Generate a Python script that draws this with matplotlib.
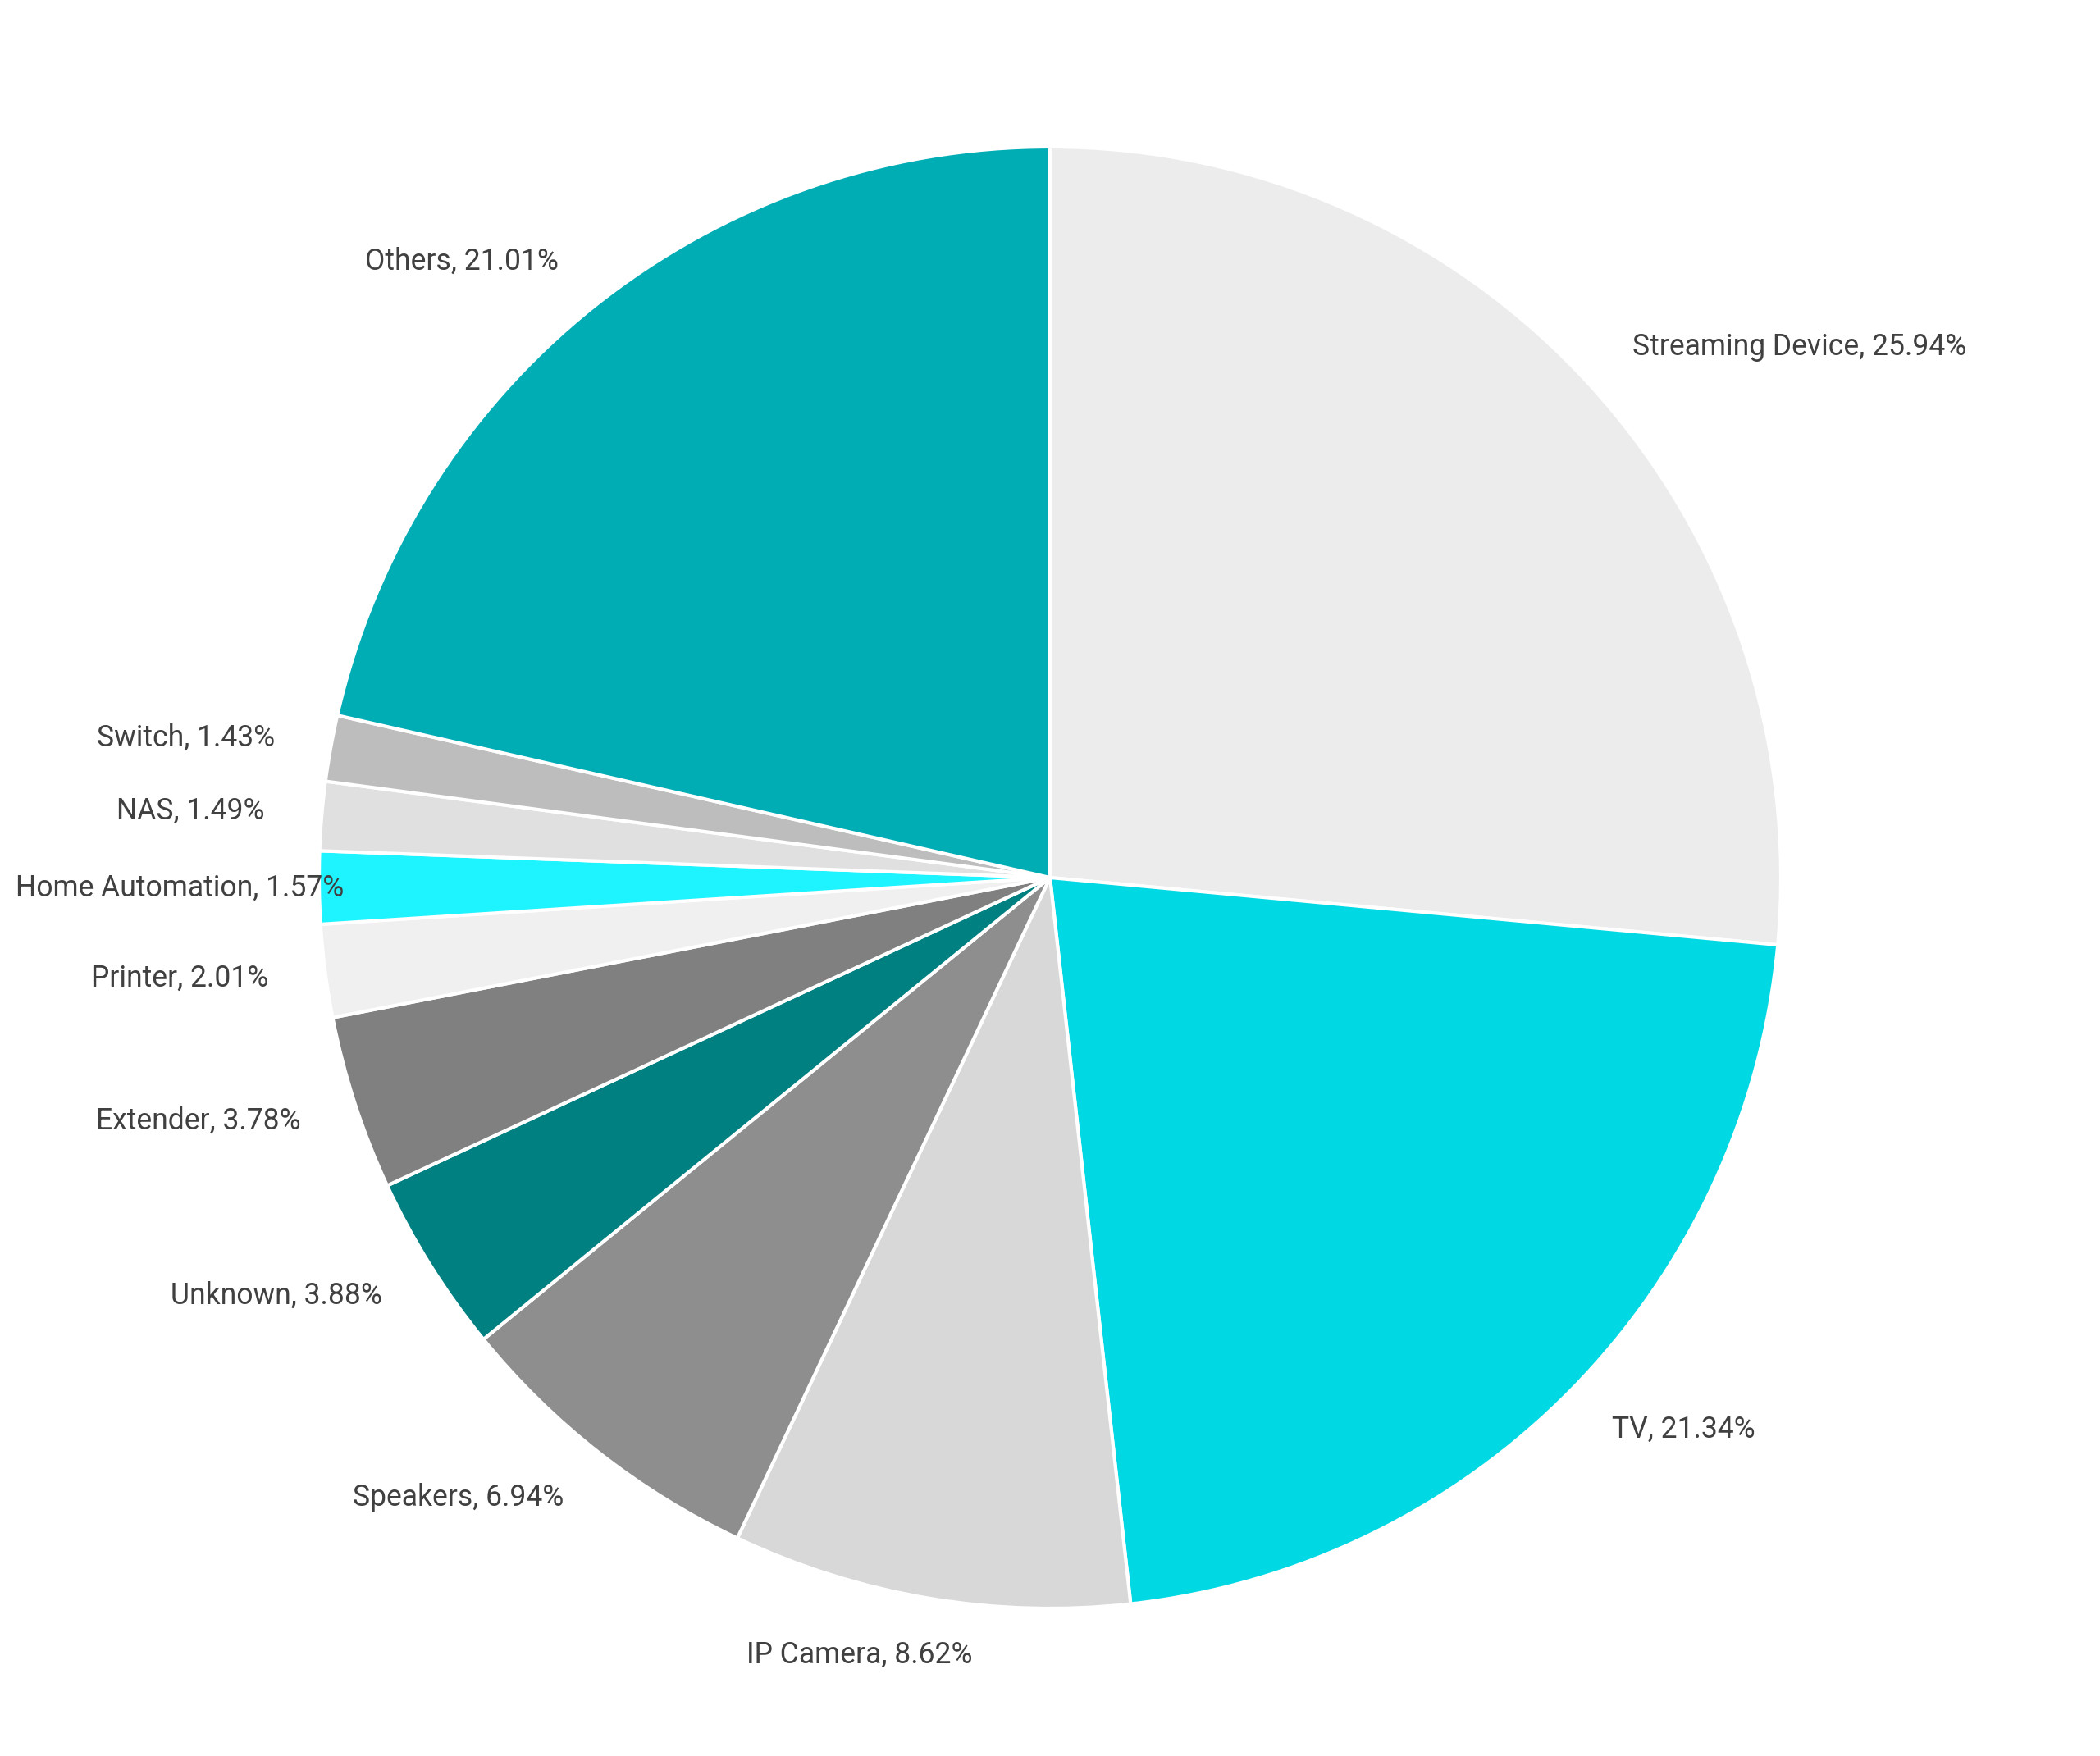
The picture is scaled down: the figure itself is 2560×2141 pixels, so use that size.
import matplotlib
matplotlib.use("Agg")
import matplotlib.pyplot as plt
import numpy as np

categories = ["Streaming Device", "TV", "IP Camera", "Speakers", "Unknown", "Extender",
              "Printer", "Home Automation", "NAS", "Switch", "Others"]
values = [25.94, 21.34, 8.62, 6.94, 3.88, 3.78, 2.01, 1.57, 1.49, 1.43, 21.01]
colors = ["#ececec", "#00d9e3", "#d8d8d8", "#8e8e8e", "#008080", "#808080",
          "#f0f0f0", "#1ef4ff", "#e0e0e0", "#bdbdbd", "#00adb5"]
labels = [f"{c}, {v:.2f}%" for c, v in zip(categories, values)]
# horizontal nudges of some labels (fraction of radius), as in the reference layout
label_shift = {"IP Camera": 0.072, "Home Automation": 0.112}

W, H, DPI = 2560, 2141, 100
fig = plt.figure(figsize=(W / DPI, H / DPI), dpi=DPI)
fig.patch.set_facecolor("white")
ax = fig.add_axes([0, 0, 1, 1])

R = 891.0
cx, cy_top = 1280.0, 1070.0
wedges, texts = ax.pie(values, labels=labels, colors=colors, startangle=90, counterclock=False,
                       radius=1.0, labeldistance=1.078,
                       wedgeprops=dict(edgecolor="white", linewidth=3),
                       textprops=dict(family="Roboto", fontsize=25.6, color="#404040"))
for cat, t in zip(categories, texts):
    if cat in label_shift:
        x, y = t.get_position()
        t.set_position((x + label_shift[cat], y))
    t.set_zorder(5)
ax.set_xlim(-cx / R, (W - cx) / R)
ax.set_ylim(-(H - cy_top) / R, cy_top / R)
ax.set_aspect("auto")
ax.axis("off")
fig.savefig("out.png", dpi=DPI, facecolor="white")
